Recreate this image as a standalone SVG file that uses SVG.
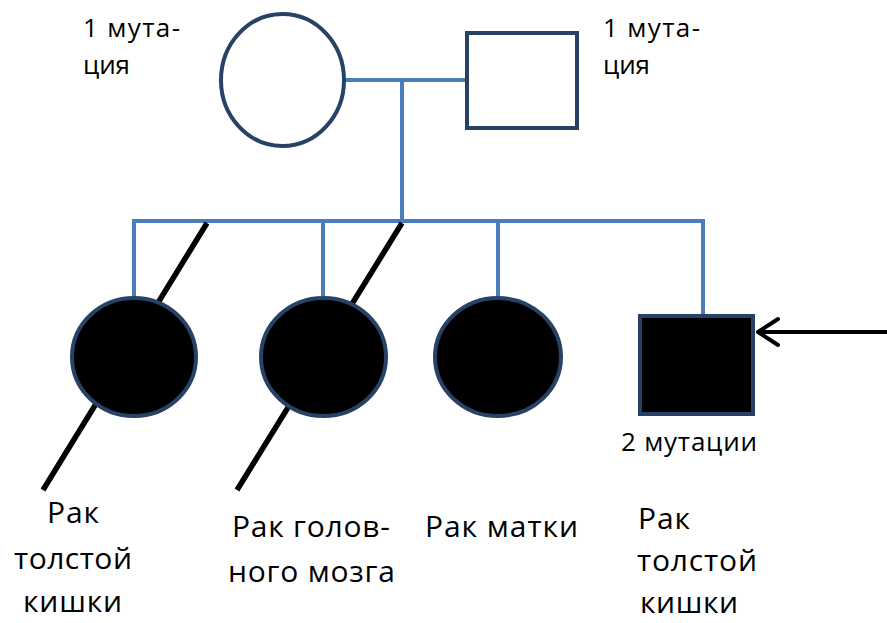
<svg xmlns="http://www.w3.org/2000/svg" width="887" height="623" viewBox="0 0 887 623">
<style>
.line{stroke:#4a7ebb;stroke-width:4;fill:none}
.dead{stroke:#000;stroke-width:5.5;fill:none}
.node{stroke:#264266;stroke-width:4}
.empty{fill:#fff}
.full{fill:#000}
text{font-family:"Open Sans","Liberation Sans",sans-serif;fill:#000}
.sm{font-size:26px}
.lg{font-size:30px}
</style>
<rect width="887" height="623" fill="#fff"/>
<g id="connectors">
<path class="line" d="M346,80 H465 M402,80 V221 M132,221 H705 M134,221 V296 M323,221 V296 M498,221 V296 M703,221 V314"/>
<path class="dead" d="M207,223 L43,490 M402,223 L237,490"/>
<path d="M887,332 H758 M778,319 L758,332 L778,345" stroke="#000" stroke-width="4" fill="none" stroke-linecap="round" stroke-linejoin="round"/>
</g>
<g id="mother"><ellipse class="node empty" cx="282.5" cy="80" rx="61.5" ry="66"/></g>
<g id="father"><rect class="node empty" x="467" y="33" width="110" height="95"/></g>
<g id="child1"><ellipse class="node full" cx="134" cy="357" rx="62" ry="59"/></g>
<g id="child2"><ellipse class="node full" cx="323.5" cy="357" rx="62.5" ry="59"/></g>
<g id="child3"><ellipse class="node full" cx="498" cy="357" rx="63" ry="59"/></g>
<g id="proband"><rect class="node full" x="640" y="316" width="113" height="98"/></g>
<g id="labels">
<text class="sm" x="83" y="37" textLength="97">1 мута-</text>
<text class="sm" x="83" y="74" textLength="47">ция</text>
<text class="sm" x="603" y="37" textLength="97">1 мута-</text>
<text class="sm" x="603" y="74" textLength="47">ция</text>
<text class="sm" x="621" y="451" textLength="136">2 мутации</text>
<text class="lg" x="47" y="523" textLength="52">Рак</text>
<text class="lg" x="14" y="569" textLength="118">толстой</text>
<text class="lg" x="23" y="612" textLength="99">кишки</text>
<text class="lg" x="638" y="529" textLength="52">Рак</text>
<text class="lg" x="637" y="571" textLength="120">толстой</text>
<text class="lg" x="640" y="613" textLength="98">кишки</text>
<text class="lg" x="232" y="537" textLength="158">Рак голов-</text>
<text class="lg" x="228" y="582" textLength="167">ного мозга</text>
<text class="lg" x="425" y="537" textLength="153">Рак матки</text>
</g>
</svg>
